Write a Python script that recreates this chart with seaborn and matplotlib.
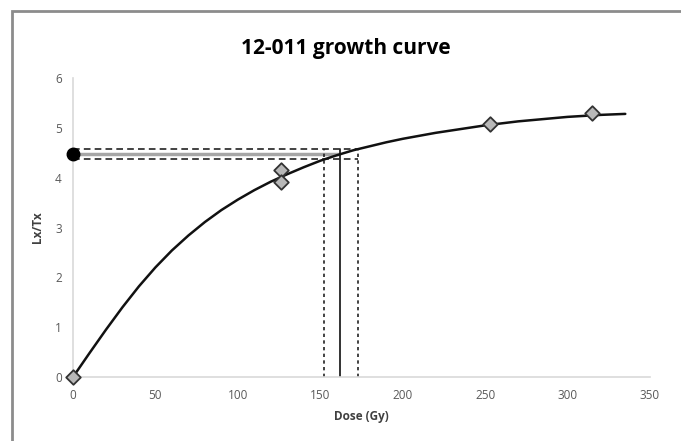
import numpy as np
import pandas as pd
import seaborn as sns
import matplotlib.pyplot as plt
from matplotlib.patches import Rectangle

# measured points (Dose, Lx/Tx)
dose = [0, 126, 126, 253, 315]
lxtx = [0.0, 4.15, 3.92, 5.08, 5.30]

# fitted growth curve
curve_dose = [0, 10, 20, 30, 40, 50, 60, 70, 80, 90, 100, 110, 120, 130, 140,
              150, 160, 170, 180, 190, 200, 210, 220, 230, 240, 250, 260, 270,
              280, 290, 300, 310, 320, 335]
curve_lxtx = [0.0, 0.48, 0.95, 1.40, 1.82, 2.20, 2.54, 2.84, 3.11, 3.35, 3.56,
              3.75, 3.92, 4.07, 4.21, 4.34, 4.45, 4.55, 4.63, 4.71, 4.78, 4.84,
              4.90, 4.95, 5.00, 5.05, 5.09, 5.13, 5.16, 5.19, 5.22, 5.24, 5.26, 5.28]

# natural signal and equivalent dose with errors
nat_lxtx = 4.48
nat_err = [4.38, 4.57]
de = 162
de_err = [152, 173]

sns.set_theme(style="white")
plt.rcParams['font.family'] = ['Open Sans', 'DejaVu Sans']

fig = plt.figure(figsize=(6.81, 4.41), dpi=100)
ax = fig.add_axes([0.1072, 0.1451, 0.8473, 0.6780])

# outer chart frame (cut off at right / bottom)
fig.patches.append(Rectangle((12 / 681, -0.1), 1.2, 1 - 11 / 441 + 0.1,
                             transform=fig.transFigure, fill=False,
                             edgecolor='#8c8c8c', linewidth=2))

# De box lines
ax.plot([0, de], [nat_lxtx, nat_lxtx], color='#a6a6a6', lw=2.5, solid_capstyle='butt')
ax.plot([de, de], [0, nat_err[1]], color='#222222', lw=1.3)
for yv in nat_err:
    ax.plot([0, de_err[1]], [yv, yv], color='#222222', lw=1.2, ls=(0, (4, 2.5)))
for xv in de_err:
    ax.plot([xv, xv], [0, nat_err[1]], color='#222222', lw=1.2, ls=(0, (2, 2)))

sns.lineplot(x=curve_dose, y=curve_lxtx, ax=ax, color='#111111', lw=1.8, sort=True)
sns.scatterplot(x=dose, y=lxtx, ax=ax, marker='D', s=55, color='#b8b8b8',
                edgecolor='#333333', linewidth=1.3, zorder=5, clip_on=False)
ax.plot([0], [nat_lxtx], 'o', color='black', ms=9, zorder=6, clip_on=False)

ax.set_xlim(0, 350)
ax.set_ylim(0, 6)
ax.set_xticks(range(0, 351, 50))
ax.set_yticks(range(0, 7))
for s in ['top', 'right']:
    ax.spines[s].set_visible(False)
for s in ['left', 'bottom']:
    ax.spines[s].set_color('#d9d9d9')
    ax.spines[s].set_linewidth(1.2)
ax.tick_params(axis='x', colors='#d9d9d9', direction='inout', length=5, labelcolor='#595959',
               labelsize=8.5, pad=6)
ax.tick_params(axis='y', length=0, labelcolor='#595959', labelsize=8.5, pad=8)

ax.set_xlabel('Dose (Gy)', fontsize=8.5, fontweight='bold', color='#404040', labelpad=6)
ax.set_ylabel('Lx/Tx', fontsize=8.5, fontweight='bold', color='#404040', labelpad=8)
fig.text(0.508, 0.89, '12-011 growth curve', ha='center', va='center',
         fontsize=15, fontweight='bold', color='black')

fig.savefig('out.png', dpi=100)
